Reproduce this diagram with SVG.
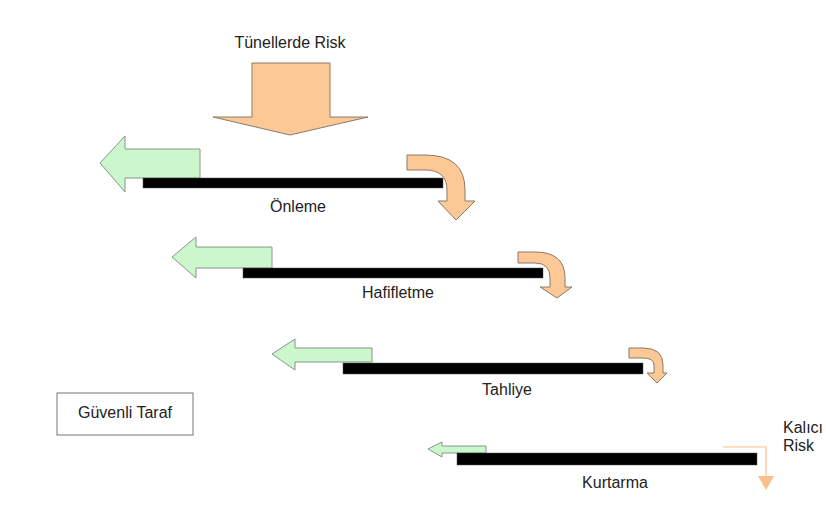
<svg xmlns="http://www.w3.org/2000/svg" width="826" height="515" viewBox="0 0 826 515">
<style>
.t{font-family:"Liberation Sans",Arial,sans-serif;font-size:16px;fill:#222}
.o{fill:#FBC896;stroke:#8a7a6a;stroke-width:1}
.g{fill:#CCF7CC;stroke:#8a948a;stroke-width:1}
.b{fill:#000;stroke:#555;stroke-width:0.5}
</style>
<rect width="826" height="515" fill="#fff"/>
<g id="risk">
<text class="t" x="290" y="48" text-anchor="middle">Tünellerde Risk</text>
<path class="o" d="M252,63 L330,63 L330,117 L368,117 L290,135 L213,117 L252,117 Z"/>
</g>
<g id="onleme">
<path class="g" d="M100,163 L125,136 L125,149 L200,149 L200,178 L125,178 L125,192 Z"/>
<rect class="b" x="143" y="178" width="300" height="10"/>
<path class="o" d="M407,155 L425,155 Q465,155 465,190 L465,201 L475,201 L456,220 L438,201 L447,201 L447,190 Q447,170 425,170 L407,170 Z"/>
<text class="t" x="298" y="212" text-anchor="middle">Önleme</text>
</g>
<g id="hafifletme">
<path class="g" d="M172,257 L196,237 L196,247 L272,247 L272,268 L196,268 L196,278 Z"/>
<rect class="b" x="243" y="268" width="300" height="10"/>
<path class="o" d="M518,252 L535,252 Q565,252 565,278 L565,287 L572,287 L557,298 L540,287 L550,287 L550,278 Q550,263 535,263 L518,263 Z"/>
<text class="t" x="398" y="298" text-anchor="middle">Hafifletme</text>
</g>
<g id="tahliye">
<path class="g" d="M272,354 L295,339 L295,348 L372,348 L372,362 L295,362 L295,370 Z"/>
<rect class="b" x="343" y="363" width="300" height="11"/>
<path class="o" d="M629,348 L643,348 Q663,348 663,365 L663,373 L667,373 L657,383 L647,373 L654,373 L654,365 Q654,358 643,358 L629,358 Z"/>
<text class="t" x="507" y="395" text-anchor="middle">Tahliye</text>
</g>
<g id="kurtarma">
<path class="g" d="M428,449 L442,442 L442,446 L486,446 L486,453 L442,453 L442,457 Z"/>
<rect class="b" x="457" y="453" width="300" height="12"/>
<path d="M723,447 L766,447 L766,476" fill="none" stroke="#FBC08A" stroke-width="1.2"/>
<polygon points="758,476 774,476 766,490" fill="#FBC08A"/>
<text class="t" x="615" y="488" text-anchor="middle">Kurtarma</text>
</g>
<g id="kalici">
<text class="t" x="783" y="433">Kalıcı</text>
<text class="t" x="783" y="451">Risk</text>
</g>
<g id="guvenli">
<rect x="57" y="393" width="136" height="42" fill="#fff" stroke="#777" stroke-width="1"/>
<text class="t" x="125" y="418" text-anchor="middle">Güvenli Taraf</text>
</g>
</svg>
